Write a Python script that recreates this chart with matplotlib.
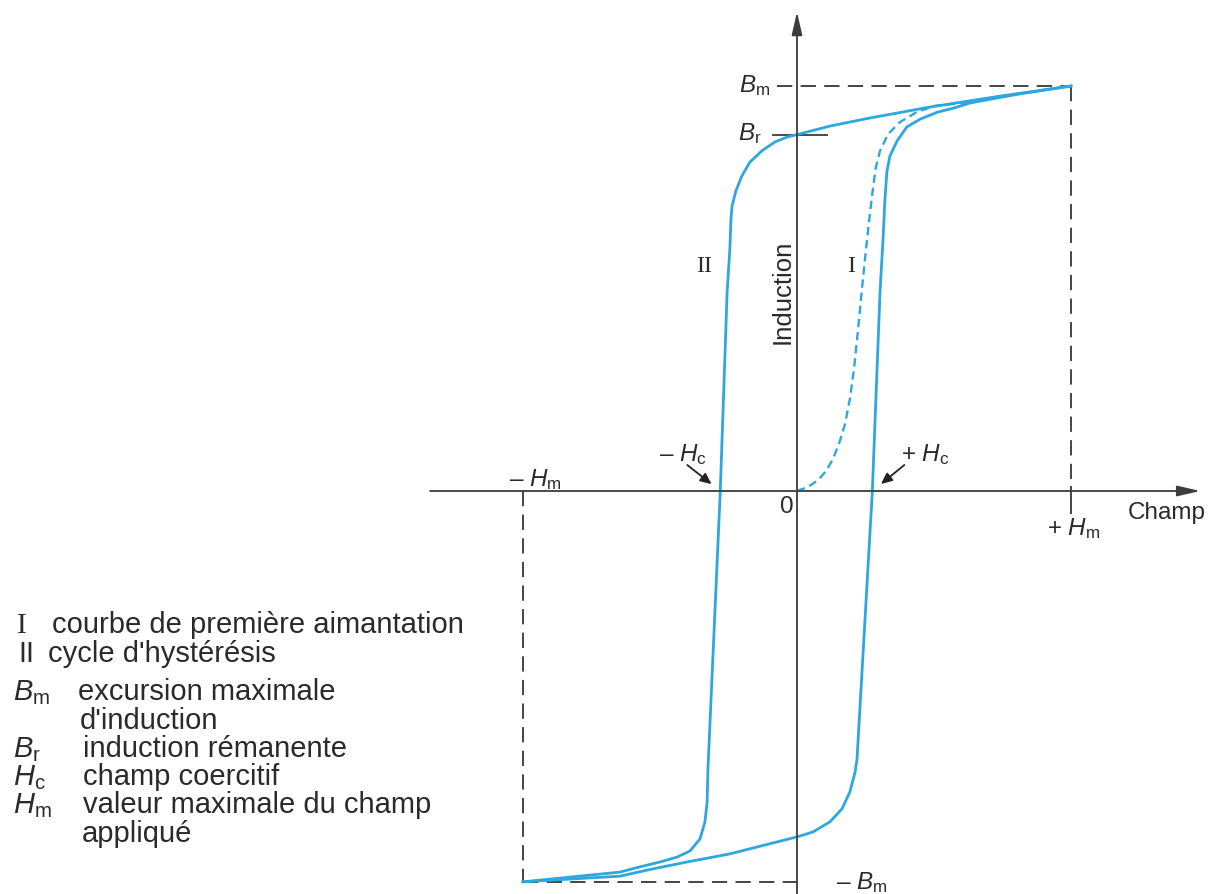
import matplotlib
matplotlib.use("Agg")
import matplotlib.pyplot as plt

plt.rcParams["font.family"] = ["Liberation Sans", "DejaVu Sans"]
plt.rcParams["mathtext.fontset"] = "custom"
plt.rcParams["mathtext.it"] = "Liberation Sans:italic"
plt.rcParams["mathtext.rm"] = "Liberation Sans"
plt.rcParams["lines.scale_dashes"] = False

# ---- characteristic values (H in units of Hm, B in units of Bm) ----
H_MAX = 1.0
B_MAX = 1.0
B_MIN = -0.965
B_R = 0.88
H_C = 0.28

# descending branch of the hysteresis cycle (from +Hm to -Hm)
h_down = [1.0, 0.741, 0.485, 0.266, 0.120, 0.0, -0.036, -0.080, -0.128, -0.172,
          -0.201, -0.223, -0.237, -0.241, -0.245, -0.255, -0.280, -0.325, -0.328,
          -0.336, -0.354, -0.391, -0.438, -0.500, -0.573, -0.646, -1.0]
b_down = [1.0, 0.975, 0.948, 0.921, 0.901, 0.880, 0.874, 0.862, 0.840, 0.812,
          0.778, 0.741, 0.704, 0.672, 0.598, 0.491, 0.0, -0.686, -0.768,
          -0.817, -0.859, -0.889, -0.904, -0.916, -0.928, -0.941, -0.965]

# ascending branch of the hysteresis cycle (from -Hm to +Hm)
h_up = [-1.0, -0.646, -0.526, -0.401, -0.245, 0.0, 0.058, 0.120, 0.164, 0.193,
        0.212, 0.219, 0.275, 0.303, 0.314, 0.321, 0.328, 0.339, 0.365, 0.401,
        0.449, 0.511, 0.569, 0.631, 0.800, 1.0]
b_up = [-0.965, -0.951, -0.933, -0.916, -0.896, -0.854, -0.842, -0.817, -0.785, -0.743,
        -0.694, -0.662, 0.0, 0.491, 0.622, 0.721, 0.788, 0.827, 0.864, 0.899,
        0.918, 0.935, 0.945, 0.958, 0.979, 1.0]

# first magnetisation curve
h_first = [0.0, 0.040, 0.077, 0.106, 0.131, 0.153, 0.175, 0.193, 0.208, 0.223,
           0.237, 0.252, 0.266, 0.277, 0.288, 0.303, 0.332, 0.376, 0.438, 0.504,
           0.631, 0.800, 1.0]
b_first = [0.0, 0.010, 0.027, 0.049, 0.079, 0.116, 0.165, 0.227, 0.301, 0.400,
           0.499, 0.598, 0.684, 0.746, 0.800, 0.840, 0.881, 0.911, 0.936, 0.951,
           0.960, 0.980, 1.0]

legend_symbols = ["I", "II", r"$B_\mathrm{m}$", "", r"$B_\mathrm{r}$",
                  r"$H_\mathrm{c}$", r"$H_\mathrm{m}$", ""]
legend_texts = ["courbe de première aimantation", "cycle d'hystérésis",
                "excursion maximale", "d'induction", "induction rémanente",
                "champ coercitif", "valeur maximale du champ", "appliqué"]

BLUE = "#2ea7df"
AXC = "#3c3c3c"
TXT = "#2a2a2a"

W, H = 1219, 895
fig = plt.figure(figsize=(W / 100, H / 100), dpi=100)
ax = fig.add_axes([0, 0, 1, 1])
# origin of the diagram and scale (pixels per unit)
ox, oy, sx, sy = 797, 492, 274, 405
ax.set_xlim(-ox / sx, (W - ox) / sx)
ax.set_ylim((oy - H) / sy, oy / sy)
ax.axis("off")

def fpx(x, y):
    """figure-fraction position from pixel position (top-left origin)"""
    return x / W, 1 - y / H

# axes with arrow heads
arrow_kw = dict(arrowstyle="-|>,head_length=1.4,head_width=0.32", color=AXC,
                lw=1.3, mutation_scale=10, shrinkA=0, shrinkB=0)
ax.annotate("", xy=(1.472, 0), xytext=(-1.339, 0), arrowprops=arrow_kw)
ax.annotate("", xy=(0, 1.183), xytext=(0, -1.0), arrowprops=arrow_kw)

# guide lines at Hm / Bm
dash = dict(color="#444444", lw=1.4, dashes=(11, 6))
ax.plot([-0.073, H_MAX], [B_MAX, B_MAX], **dash)
ax.plot([H_MAX, H_MAX], [B_MAX, 0.02], **dash)
ax.plot([H_MAX, H_MAX], [0.01, -0.055], color="#444444", lw=1.4)
ax.plot([-H_MAX, -H_MAX], [0, B_MIN], **dash)
ax.plot([-H_MAX, 0], [B_MIN, B_MIN], **dash)
# remanence tick
ax.plot([-0.088, 0.110], [B_R, B_R], color=AXC, lw=1.3)

# curves
ax.plot(h_down, b_down, color=BLUE, lw=2.0, solid_joinstyle="round")
ax.plot(h_up, b_up, color=BLUE, lw=2.0, solid_joinstyle="round")
ax.plot(h_first, b_first, color=BLUE, lw=1.7, dashes=(6, 3.5))

# coercive field arrows
small = dict(arrowstyle="-|>,head_length=0.55,head_width=0.25", color="#222222",
             lw=1.3, mutation_scale=12, shrinkA=0, shrinkB=8)
ax.annotate("", xy=(-H_C, 0), xytext=(-33, 26), textcoords="offset pixels",
            arrowprops=small)
ax.annotate("", xy=(H_C - 0.005, 0), xytext=(32, 26), textcoords="offset pixels",
            arrowprops=small)

fs = 17.5
tk = dict(color=TXT, fontsize=fs)
fig.text(*fpx(770, 92), r"$B_\mathrm{m}$", ha="right", va="baseline", **tk)
fig.text(*fpx(762, 140), r"$B_\mathrm{r}$", ha="right", va="baseline", **tk)
fig.text(*fpx(683, 461), r"– $H_\mathrm{c}$", ha="center", va="baseline", **tk)
fig.text(*fpx(925, 461), r"+ $H_\mathrm{c}$", ha="center", va="baseline", **tk)
fig.text(*fpx(535, 486), r"– $H_\mathrm{m}$", ha="center", va="baseline", **tk)
fig.text(*fpx(1074, 535), r"+ $H_\mathrm{m}$", ha="center", va="baseline", **tk)
fig.text(*fpx(862, 889), r"– $B_\mathrm{m}$", ha="center", va="baseline", **tk)
fig.text(*fpx(787, 513), "0", ha="center", va="baseline", **tk)
fig.text(*fpx(1128, 519), "Champ", ha="left", va="baseline", **tk)
fig.text(*fpx(783, 292), "Induction", ha="center", va="center", rotation=90,
         color=TXT, fontsize=18.5)
fig.text(*fpx(704, 266), "II", ha="center", va="center", color=TXT,
         fontsize=fs, family="Liberation Serif")
fig.text(*fpx(851, 266), "I", ha="center", va="center", color=TXT,
         fontsize=fs, family="Liberation Serif")

# key
lfs = 21
baselines = [633, 662, 700, 729, 757, 785, 813, 842]
text_x = [52, 48, 78, 80, 83, 83, 83, 82]
for sym, desc, y, xt in zip(legend_symbols, legend_texts, baselines, text_x):
    if sym == "I":
        fig.text(*fpx(17, y), sym, ha="left", va="baseline", color=TXT,
                 fontsize=lfs, family="Liberation Serif")
    elif sym:
        fig.text(*fpx(13 if sym != "II" else 18, y), sym, ha="left",
                 va="baseline", color=TXT, fontsize=lfs)
    fig.text(*fpx(xt, y), desc, ha="left", va="baseline", color=TXT, fontsize=lfs)

fig.savefig("out.png", dpi=100, facecolor="white")
